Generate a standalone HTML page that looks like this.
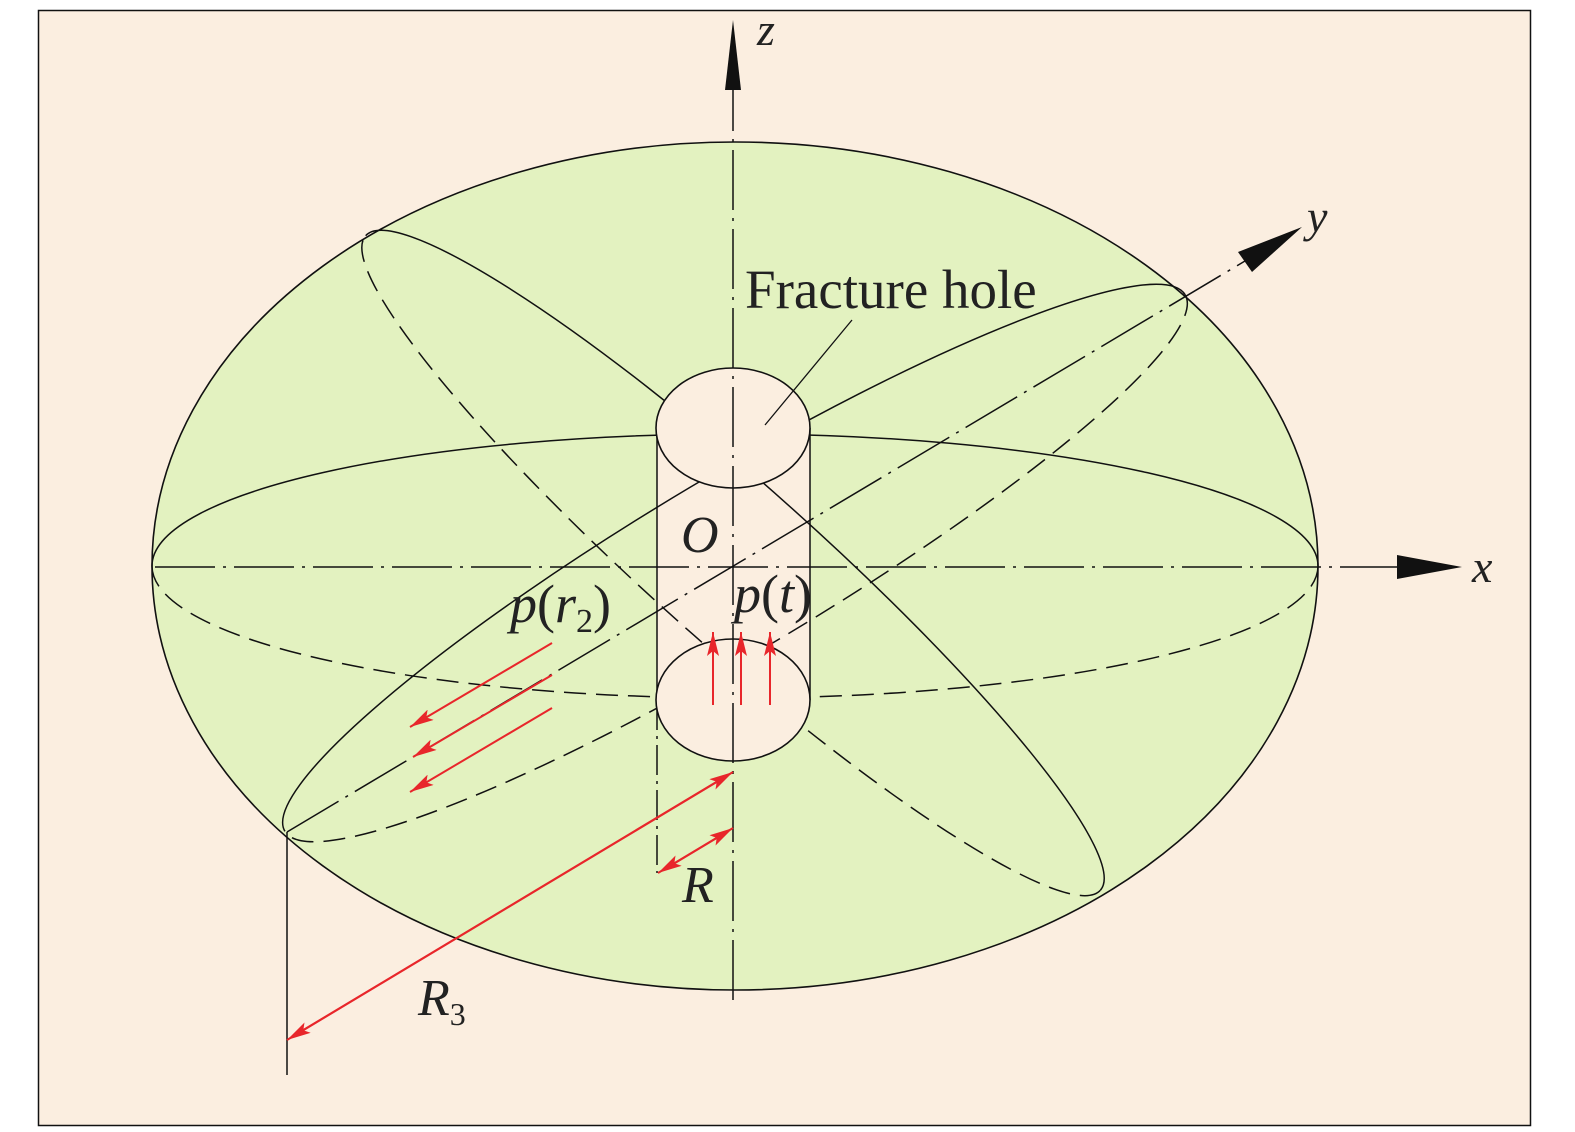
<!DOCTYPE html>
<html><head><meta charset="utf-8"><style>
html,body{margin:0;padding:0;background:#fff}
svg{display:block}
text{font-family:"Liberation Serif",serif;fill:#222}
</style></head><body>
<svg width="1575" height="1132" viewBox="0 0 1575 1132" xmlns="http://www.w3.org/2000/svg">
<defs>
<clipPath id="top"><rect x="-800" y="-800" width="1600" height="800"/></clipPath>
<clipPath id="bot"><rect x="-800" y="0" width="1600" height="800"/></clipPath>
<marker id="ra" markerWidth="24" markerHeight="12" refX="24" refY="6" orient="auto" markerUnits="userSpaceOnUse" viewBox="0 0 24 12"><path d="M0,0 L24,6 L0,12 L5,6 Z" fill="#e8262b"/></marker>
</defs>
<rect x="0" y="0" width="1575" height="1132" fill="#fff"/>
<rect x="38.5" y="10.5" width="1492" height="1115" fill="#fbeee0" stroke="#111" stroke-width="1.5"/>
<ellipse cx="735" cy="566" rx="583" ry="424" fill="#e3f2c0" stroke="#111" stroke-width="1.6"/>
<rect x="657" y="428" width="153" height="272" fill="#fbeee0"/>
<g fill="none" stroke="#111" stroke-width="1.5">
<g transform="translate(735,566)">
<ellipse rx="583" ry="132" clip-path="url(#top)"/>
<ellipse rx="583" ry="132" clip-path="url(#bot)" stroke-dasharray="22 10"/>
</g>
<g transform="translate(735,563) rotate(-30.8)">
<ellipse rx="524" ry="88" clip-path="url(#top)"/>
<ellipse rx="524" ry="88" clip-path="url(#bot)" stroke-dasharray="22 10"/>
</g>
<g transform="translate(733,563) rotate(41.7)">
<ellipse rx="492" ry="80" clip-path="url(#top)"/>
<ellipse rx="492" ry="80" clip-path="url(#bot)" stroke-dasharray="22 10"/>
</g>
<line x1="155" y1="567" x2="1400" y2="567" stroke-dasharray="60 8 3 8"/>
<line x1="287" y1="832" x2="1250" y2="258" stroke-dasharray="60 8 3 8"/>
<line x1="657" y1="428" x2="657" y2="700"/>
<line x1="657" y1="700" x2="657" y2="873" stroke-dasharray="30 6 3 6"/>
<line x1="810" y1="428" x2="810" y2="700"/>
</g>
<ellipse cx="733" cy="428" rx="77" ry="60" fill="#fbeee0" stroke="#111" stroke-width="1.6"/>
<ellipse cx="733" cy="700" rx="77" ry="61" fill="#fbeee0" stroke="#111" stroke-width="1.6"/>
<line x1="733" y1="1000" x2="733" y2="80" stroke="#111" stroke-width="1.5" stroke-dasharray="60 8 3 8"/>
<polygon points="733,20 725,90 741,90" fill="#111"/>
<polygon points="1462,567 1397,555 1397,579" fill="#111"/>
<polygon points="1302,227 1238,252 1252,272" fill="#111"/>
<line x1="852" y1="320" x2="765" y2="425" stroke="#111" stroke-width="1.3"/>
<line x1="287" y1="832" x2="287" y2="1075" stroke="#111" stroke-width="1.5"/>
<g stroke="#e8262b" stroke-width="2" fill="none">
<line x1="713" y1="705" x2="713" y2="632" marker-end="url(#ra)"/>
<line x1="741" y1="705" x2="741" y2="632" marker-end="url(#ra)"/>
<line x1="770" y1="705" x2="770" y2="632" marker-end="url(#ra)"/>
<line x1="552" y1="643" x2="410" y2="727" marker-end="url(#ra)"/>
<line x1="552" y1="675" x2="413" y2="757" marker-end="url(#ra)"/>
<line x1="552" y1="708" x2="410" y2="792" marker-end="url(#ra)"/>
<line x1="300" y1="1032" x2="733" y2="772" marker-end="url(#ra)"/>
<line x1="720" y1="780" x2="287" y2="1040" marker-end="url(#ra)"/>
<line x1="670" y1="866" x2="733" y2="828" marker-end="url(#ra)"/>
<line x1="720" y1="836" x2="658" y2="873" marker-end="url(#ra)"/>
</g>
<text x="745" y="308" font-size="55">Fracture hole</text>
<text x="757" y="45" font-size="46" font-style="italic">z</text>
<text x="1472" y="582" font-size="46" font-style="italic">x</text>
<text x="1307" y="232" font-size="46" font-style="italic">y</text>
<text x="681" y="552" font-size="52" font-style="italic">O</text>
<text x="734" y="612" font-size="54"><tspan font-style="italic">p</tspan>(<tspan font-style="italic">t</tspan>)</text>
<text x="510" y="622" font-size="54"><tspan font-style="italic">p</tspan>(<tspan font-style="italic">r</tspan><tspan font-size="34" dy="10">2</tspan><tspan dy="-10">)</tspan></text>
<text x="682" y="902" font-size="52" font-style="italic">R</text>
<text x="418" y="1015" font-size="52" font-style="italic">R<tspan font-size="32" font-style="normal" dy="10">3</tspan></text>
</svg>
</body></html>
